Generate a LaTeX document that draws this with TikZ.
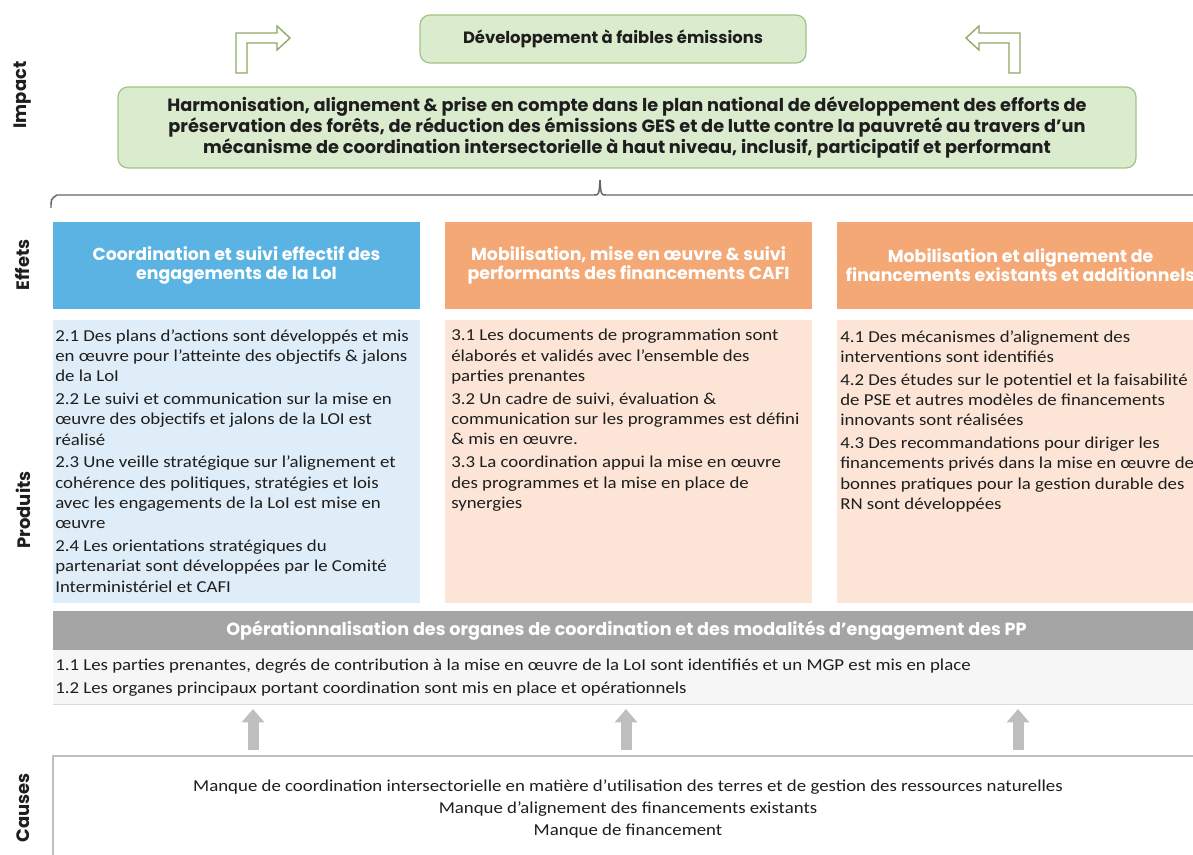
\documentclass[tikz,border=0pt]{standalone}
\usepackage{fontspec}
\setmainfont{Carlito}[FakeStretch=1.13]
\newfontfamily\gothic{Poppins}
\usetikzlibrary{arrows.meta}

\definecolor{greenfill}{RGB}{218,235,206}
\definecolor{greenedge}{RGB}{160,196,134}
\definecolor{arrowgreen}{RGB}{140,170,100}
\definecolor{bluehead}{RGB}{91,179,228}
\definecolor{orangehead}{RGB}{244,168,118}
\definecolor{bluelight}{RGB}{222,237,248}
\definecolor{orangelight}{RGB}{252,229,214}
\definecolor{graybar}{RGB}{165,165,165}
\definecolor{graylight}{RGB}{246,246,246}
\definecolor{grayarrow}{RGB}{191,191,191}
\definecolor{inkdark}{RGB}{30,30,30}

\begin{document}
\begin{tikzpicture}[x=0.75pt,y=-0.75pt,
  greenbox/.style={rectangle, rounded corners=7.5pt, draw=greenedge, line width=0.9pt,
    fill=greenfill, inner sep=0pt, align=center, text=inkdark},
  headbox/.style={rectangle, inner sep=0pt, align=center, text=white,
    font=\gothic\bfseries\fontsize{13}{14.4}\selectfont},
  prodbox/.style={rectangle, inner sep=0pt},
  bodytext/.style={inner sep=0pt, align=left, anchor=north west, text=inkdark,
    font=\fontsize{12.5}{15.2}\selectfont},
  sidelabel/.style={rotate=90, inner sep=0pt, text=inkdark,
    font=\gothic\bfseries\fontsize{13.5}{15}\selectfont},
  bentarrow/.style={draw=arrowgreen, fill=white, line width=1pt, line join=miter},
  blockarrow/.style={draw=grayarrow, line width=8.25pt,
    -{Triangle[width=16.5pt,length=10pt]}},
  bracket/.style={draw=black!60, line width=1.1pt}
]
\useasboundingbox (0,0) rectangle (1193,855);
\clip (0,0) rectangle (1193,855);
\fill[white] (0,0) rectangle (1193,855);

% ---------- Impact level ----------
\node[greenbox, minimum width=386*0.75pt, minimum height=48*0.75pt,
  font=\gothic\bfseries\fontsize{12.3}{14}\selectfont] (dev) at (613,39)
  {Développement à faibles émissions};

\node[greenbox, minimum width=1018*0.75pt, minimum height=81*0.75pt,
  font=\gothic\bfseries\fontsize{13.3}{16.1}\selectfont] (impact) at (627,127.5)
  {Harmonisation, alignement \& prise en compte dans le plan national de développement des efforts de\\
   préservation des forêts, de réduction des émissions GES et de lutte contre la pauvreté au travers d’un\\
   mécanisme de coordination intersectorielle à haut niveau, inclusif, participatif et performant};

% bent arrows pointing towards the top box
\draw[bentarrow] (236,73) -- (236,33) -- (277,33) -- (277,26) -- (290,38)
  -- (277,50) -- (277,43) -- (247,43) -- (247,73) -- cycle;
\draw[bentarrow] (1020,73) -- (1020,33) -- (979,33) -- (979,26) -- (966,38)
  -- (979,50) -- (979,43) -- (1009,43) -- (1009,73) -- cycle;

% grouping bracket under the impact box
\draw[bracket] (51,208) .. controls (51,199) .. (57,195) -- (594,195)
  .. controls (599,195) .. (600,180) .. controls (601,195) .. (606,195) -- (1200,195);

% ---------- Effects ----------
\node[headbox, fill=bluehead, minimum width=367*0.75pt, minimum height=87*0.75pt]
  (eff1) at (236.5,265.5) {Coordination et suivi effectif des\\engagements de la LoI};
\node[headbox, fill=orangehead, minimum width=367*0.75pt, minimum height=87*0.75pt]
  (eff2) at (628.5,265.5) {Mobilisation, mise en œuvre \& suivi\\performants des financements CAFI};
\node[headbox, fill=orangehead, minimum width=367*0.75pt, minimum height=87*0.75pt]
  (eff3) at (1020.5,265.5) {Mobilisation et alignement de\\financements existants et additionnels};

% ---------- Products ----------
\node[prodbox, fill=bluelight, minimum width=367*0.75pt, minimum height=282*0.75pt]
  (prod1) at (236.5,461.5) {};
\node[prodbox, fill=orangelight, minimum width=367*0.75pt, minimum height=282*0.75pt]
  (prod2) at (628.5,461.5) {};
\node[prodbox, fill=orangelight, minimum width=367*0.75pt, minimum height=282*0.75pt]
  (prod3) at (1020.5,461.5) {};

\node[bodytext] (txt1) at (55,329)
  {2.1 Des plans d’actions sont développés et mis\\
   en œuvre pour l’atteinte des objectifs \& jalons\\
   de la LoI\\[2pt]
   2.2 Le suivi et communication sur la mise en\\
   œuvre des objectifs et jalons de la LOI est\\
   réalisé\\[2pt]
   2.3 Une veille stratégique sur l’alignement et\\
   cohérence des politiques, stratégies et lois\\
   avec les engagements de la LoI est mise en\\
   œuvre\\[2pt]
   2.4 Les orientations stratégiques du\\
   partenariat sont développées par le Comité\\
   Interministériel et CAFI};
\node[bodytext] (txt2) at (451,329)
  {3.1 Les documents de programmation sont\\
   élaborés et validés avec l’ensemble des\\
   parties prenantes\\[2pt]
   3.2 Un cadre de suivi, évaluation \&\\
   communication sur les programmes est défini\\
   \& mis en œuvre.\\[2pt]
   3.3 La coordination appui la mise en œuvre\\
   des programmes et la mise en place de\\
   synergies};
\node[bodytext] (txt3) at (840,330)
  {4.1 Des mécanismes d’alignement des\\
   interventions sont identifiés\\[2pt]
   4.2 Des études sur le potentiel et la faisabilité\\
   de PSE et autres modèles de financements\\
   innovants sont réalisées\\[2pt]
   4.3 Des recommandations pour diriger les\\
   financements privés dans la mise en œuvre de\\
   bonnes pratiques pour la gestion durable des\\
   RN sont développées};

% ---------- Operational base ----------
\node[rectangle, fill=graybar, inner sep=0pt, minimum width=1147*0.75pt,
  minimum height=39*0.75pt, text=white,
  font=\gothic\bfseries\fontsize{13.2}{15}\selectfont] (oper) at (626.5,630.5)
  {Opérationnalisation des organes de coordination et des modalités d’engagement des PP};
\node[rectangle, fill=graylight, inner sep=0pt, minimum width=1147*0.75pt,
  minimum height=54*0.75pt] (operbox) at (626.5,677) {};
\draw[black!15, line width=0.6pt] (53,704) -- (1200,704);
\node[bodytext, font=\fontsize{12.5}{17}\selectfont] (opertxt) at (55,659)
  {1.1 Les parties prenantes, degrés de contribution à la mise en œuvre de la LoI sont identifiés et un MGP est mis en place\\
   1.2 Les organes principaux portant coordination sont mis en place et opérationnels};

% ---------- Causes ----------
\node[rectangle, fill=white, draw=black!25, line width=0.8pt, inner sep=0pt,
  minimum width=1150*0.75pt, minimum height=110*0.75pt] (causes) at (628,811) {};
\node[inner sep=0pt, align=center, text=inkdark, font=\fontsize{12.5}{16.5}\selectfont]
  (causetxt) at (628,809)
  {Manque de coordination intersectorielle en matière d’utilisation des terres et de gestion des ressources naturelles\\
   Manque d’alignement des financements existants\\
   Manque de financement};

% arrows from the causes up to the operational base
\coordinate (c1) at (253,750); \coordinate (o1) at (253,709);
\coordinate (c2) at (626,750); \coordinate (o2) at (626,709);
\coordinate (c3) at (1018,750); \coordinate (o3) at (1018,709);
\draw[blockarrow] (c1) -- (o1);
\draw[blockarrow] (c2) -- (o2);
\draw[blockarrow] (c3) -- (o3);

% ---------- Level labels ----------
\node[sidelabel] (lblimpact) at (23,95) {Impact};
\node[sidelabel] (lbleffets) at (23,265) {Effets};
\node[sidelabel] (lblproduits) at (23,510) {Produits};
\node[sidelabel] (lblcauses) at (23,808) {Causes};
\end{tikzpicture}
\end{document}
